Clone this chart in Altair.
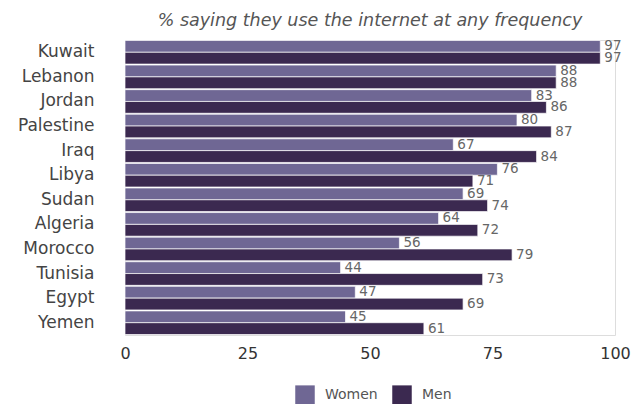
import altair as alt
import pandas as pd

countries = ["Kuwait", "Lebanon", "Jordan", "Palestine", "Iraq", "Libya", "Sudan",
             "Algeria", "Morocco", "Tunisia", "Egypt", "Yemen"]
women = [97, 88, 83, 80, 67, 76, 69, 64, 56, 44, 47, 45]
men = [97, 88, 86, 87, 84, 71, 74, 72, 79, 73, 69, 61]
groups = ["Women", "Men"]
colors = ["#6f6794", "#3b2950"]

rows = []
for c, w, m in zip(countries, women, men):
    rows.append({"country": c, "group": "Women", "value": w})
    rows.append({"country": c, "group": "Men", "value": m})
df = pd.DataFrame(rows)

FONT = "DejaVu Sans"

y = alt.Y("country:N", sort=countries, title=None,
          scale=alt.Scale(paddingInner=0.04, paddingOuter=0.02),
          axis=alt.Axis(domain=False, ticks=False, labelFontSize=17, labelColor="#444444",
                        labelPadding=31, labelFont=FONT))
x = alt.X("value:Q", title=None, scale=alt.Scale(domain=[0, 100]),
          axis=alt.Axis(values=[0, 25, 50, 75, 100], grid=False, domain=False, ticks=False,
                        labelFontSize=16, labelColor="#333333", labelPadding=10,
                        labelFont=FONT, labelFlush=False))
yoff = alt.YOffset("group:N", sort=groups, scale=alt.Scale(paddingInner=0))
color = alt.Color("group:N", sort=groups,
                  scale=alt.Scale(domain=groups, range=colors),
                  legend=alt.Legend(title=None, orient="none", direction="horizontal",
                                    legendX=170, legendY=345,
                                    symbolType="square", symbolSize=380, symbolStrokeWidth=0,
                                    labelFontSize=14, labelColor="#555555", labelFont=FONT,
                                    columnPadding=14, labelOffset=10))

bars = alt.Chart(df).mark_bar(stroke="white", strokeWidth=0.7).encode(
    x=x, y=y, yOffset=yoff, color=color)

text = alt.Chart(df).mark_text(align="left", dx=4, fontSize=13.5, color="#666666",
                               font=FONT).encode(
    x=x, y=y, yOffset=yoff, text="value:Q")

chart = alt.layer(bars, text).properties(
    width=490, height=295,
    title=alt.Title("% saying they use the internet at any frequency", fontSize=17.5,
                    fontStyle="italic", fontWeight="normal", color="#555555", font=FONT,
                    anchor="middle", offset=10),
    autosize="none",
    padding={"left": 125, "top": 40, "right": 16, "bottom": 69},
).configure_view(stroke=None).configure(background="white")

chart.save("out.html", embed_options={"renderer": "svg", "actions": False})
